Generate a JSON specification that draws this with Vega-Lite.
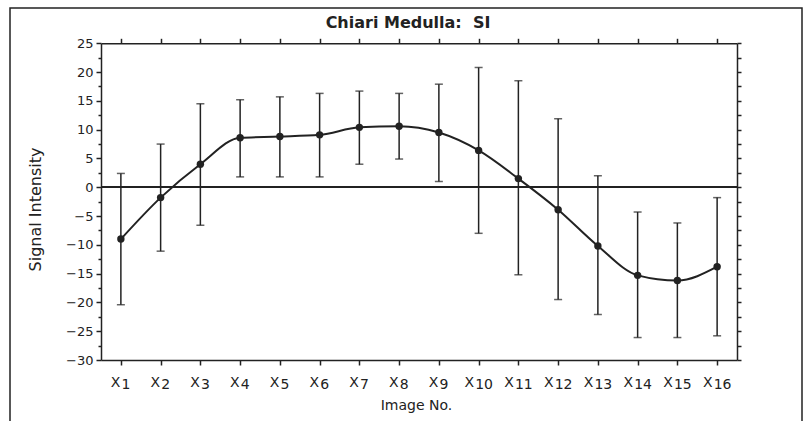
{
  "$schema": "https://vega.github.io/schema/vega-lite/v6.json",
  "width": 792,
  "height": 415,
  "autosize": {"type": "none"},
  "padding": {"left": 10, "top": 8, "right": 3, "bottom": -2},
  "background": "white",
  "config": {
    "font": "DejaVu Sans",
    "view": {"stroke": "#222", "strokeWidth": 1.5},
    "axis": {
      "grid": false,
      "domainColor": "#222",
      "domainWidth": 1.5,
      "tickColor": "#222",
      "tickWidth": 1.5,
      "labelColor": "#222",
      "labelFont": "DejaVu Sans",
      "labelFontSize": 13,
      "labelOverlap": false,
      "labelBound": false,
      "labelFlush": false,
      "titleColor": "#222",
      "titleFont": "DejaVu Sans",
      "titleFontWeight": "normal",
      "titleFontSize": 13
    }
  },
  "title": {
    "text": "Chiari Medulla:\u00a0\u00a0SI",
    "font": "DejaVu Sans",
    "fontSize": 16,
    "fontWeight": "bold",
    "color": "#222",
    "anchor": "middle",
    "frame": "group",
    "baseline": "alphabetic",
    "offset": -36,
    "dx": 2
  },
  "data": {
    "values": [
      {"image": 1, "mean": -9.0, "lo": -20.4, "hi": 2.4},
      {"image": 2, "mean": -1.8, "lo": -11.1, "hi": 7.5},
      {"image": 3, "mean": 4.0, "lo": -6.6, "hi": 14.5},
      {"image": 4, "mean": 8.6, "lo": 1.8, "hi": 15.2},
      {"image": 5, "mean": 8.8, "lo": 1.8, "hi": 15.7},
      {"image": 6, "mean": 9.1, "lo": 1.8, "hi": 16.3},
      {"image": 7, "mean": 10.4, "lo": 4.0, "hi": 16.7},
      {"image": 8, "mean": 10.6, "lo": 4.9, "hi": 16.3},
      {"image": 9, "mean": 9.5, "lo": 1.0, "hi": 17.9},
      {"image": 10, "mean": 6.4, "lo": -8.0, "hi": 20.8},
      {"image": 11, "mean": 1.5, "lo": -15.2, "hi": 18.5},
      {"image": 12, "mean": -3.9, "lo": -19.5, "hi": 11.9},
      {"image": 13, "mean": -10.2, "lo": -22.1, "hi": 2.0},
      {"image": 14, "mean": -15.3, "lo": -26.1, "hi": -4.3},
      {"image": 15, "mean": -16.2, "lo": -26.1, "hi": -6.2},
      {"image": 16, "mean": -13.8, "lo": -25.8, "hi": -1.8}
    ]
  },
  "layer": [
    {
      "mark": {"type": "rule", "color": "#222", "strokeWidth": 1.5},
      "encoding": {
        "x": {
          "field": "image", "type": "quantitative",
          "scale": {"domain": [0.5, 16.5], "range": [91, 727], "nice": false, "zero": false},
          "axis": {
            "orient": "bottom", "offset": -63,
            "values": [1, 2, 3, 4, 5, 6, 7, 8, 9, 10, 11, 12, 13, 14, 15, 16],
            "labelExpr": "'X'",
            "labelAlign": "right",
            "labelBaseline": "top",
            "labelFontSize": 14,
            "labelOffset": {"condition": {"test": "datum.value >= 10", "value": -5}, "value": -1},
            "labelPadding": 10,
            "tickSize": 5,
            "title": "Image No.",
            "titleFontSize": 14,
            "titleBaseline": "alphabetic",
            "titleX": 406,
            "titleY": 49
          }
        },
        "y": {
          "field": "lo", "type": "quantitative",
          "scale": {"domain": [-30, 25], "range": [352, 35.3], "nice": false, "zero": false},
          "axis": {
            "orient": "left", "offset": -91,
            "values": [-30, -27.5, -25, -22.5, -20, -17.5, -15, -12.5, -10, -7.5, -5, -2.5, 0, 2.5, 5, 7.5, 10, 12.5, 15, 17.5, 20, 22.5, 25],
            "labelExpr": "datum.value % 5 === 0 ? format(datum.value, 'd') : ''",
            "tickSize": {"condition": {"test": "datum.value % 5 === 0", "value": 5}, "value": 3},
            "labelPadding": 3,
            "title": "Signal Intensity",
            "titleFontSize": 16,
            "titleAngle": -90,
            "titleAlign": "center",
            "titleBaseline": "middle",
            "titleX": -66,
            "titleY": 201
          }
        },
        "y2": {"field": "hi"}
      }
    },
    {
      "mark": {"type": "tick", "orient": "horizontal", "color": "#222", "size": 8, "thickness": 1.5},
      "encoding": {
        "x": {
          "field": "image", "type": "quantitative",
          "scale": {"domain": [0.5, 16.5], "range": [91, 727], "nice": false, "zero": false},
          "axis": {
            "orient": "bottom", "offset": -63,
            "values": [1, 2, 3, 4, 5, 6, 7, 8, 9, 10, 11, 12, 13, 14, 15, 16],
            "format": "d",
            "labelAlign": "left",
            "labelBaseline": "top",
            "labelFontSize": 14,
            "labelOffset": {"condition": {"test": "datum.value >= 10", "value": -4}, "value": 0},
            "labelPadding": 17,
            "ticks": false,
            "domain": false,
            "title": null
          }
        },
        "y": {
          "field": "lo", "type": "quantitative",
          "scale": {"domain": [-30, 25], "range": [352, 35.3], "nice": false, "zero": false},
          "axis": {
            "orient": "right", "offset": -65,
            "values": [-30, -27.5, -25, -22.5, -20, -17.5, -15, -12.5, -10, -7.5, -5, -2.5, 0, 2.5, 5, 7.5, 10, 12.5, 15, 17.5, 20, 22.5, 25],
            "labels": false,
            "tickSize": 4,
            "title": null
          }
        }
      }
    },
    {
      "mark": {"type": "tick", "orient": "horizontal", "color": "#222", "size": 8, "thickness": 1.5},
      "encoding": {
        "x": {
          "field": "image", "type": "quantitative",
          "scale": {"domain": [0.5, 16.5], "range": [91, 727], "nice": false, "zero": false},
          "axis": {
            "orient": "top", "offset": -35.3,
            "values": [1, 2, 3, 4, 5, 6, 7, 8, 9, 10, 11, 12, 13, 14, 15, 16],
            "labels": false,
            "tickSize": 5,
            "title": null
          }
        },
        "y": {
          "field": "hi", "type": "quantitative",
          "scale": {"domain": [-30, 25], "range": [352, 35.3], "nice": false, "zero": false},
          "axis": null
        }
      }
    },
    {
      "mark": {"type": "rule", "color": "#222", "strokeWidth": 1},
      "encoding": {
        "y": {"datum": 0, "type": "quantitative", "scale": {"domain": [-30, 25], "range": [352, 35.3], "nice": false, "zero": false}, "axis": null},
        "x": {"datum": 0.5, "type": "quantitative", "scale": {"domain": [0.5, 16.5], "range": [91, 727], "nice": false, "zero": false}, "axis": null},
        "x2": {"datum": 16.5}
      }
    },
    {
      "mark": {"type": "line", "color": "#222", "strokeWidth": 2, "interpolate": "monotone"},
      "encoding": {
        "x": {"field": "image", "type": "quantitative", "scale": {"domain": [0.5, 16.5], "range": [91, 727], "nice": false, "zero": false}, "axis": null},
        "y": {"field": "mean", "type": "quantitative", "scale": {"domain": [-30, 25], "range": [352, 35.3], "nice": false, "zero": false}, "axis": null}
      }
    },
    {
      "mark": {"type": "point", "shape": "circle", "filled": true, "color": "#222", "opacity": 1, "size": 55},
      "encoding": {
        "x": {"field": "image", "type": "quantitative", "scale": {"domain": [0.5, 16.5], "range": [91, 727], "nice": false, "zero": false}, "axis": null},
        "y": {"field": "mean", "type": "quantitative", "scale": {"domain": [-30, 25], "range": [352, 35.3], "nice": false, "zero": false}, "axis": null}
      }
    }
  ],
  "resolve": {"axis": {"x": "independent", "y": "independent"}}
}
